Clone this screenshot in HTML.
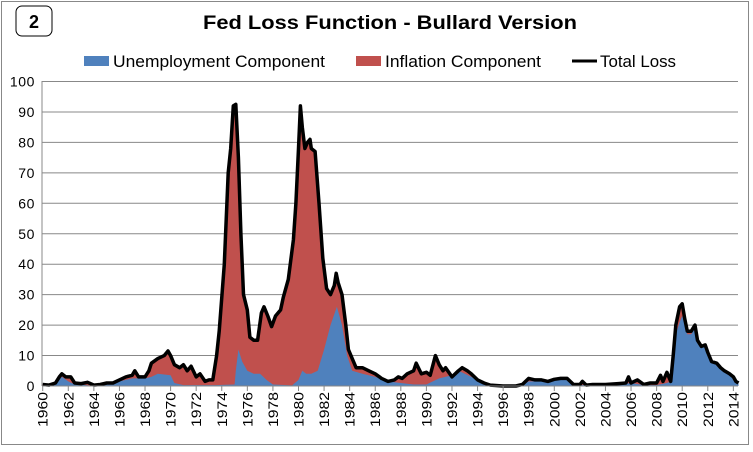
<!DOCTYPE html>
<html><head><meta charset="utf-8"><style>
body{margin:0;background:#fff;}
svg text{font-family:"Liberation Sans",sans-serif;}
</style></head><body>
<svg id="s" width="753" height="447" xmlns="http://www.w3.org/2000/svg">
<rect x="1.5" y="1.5" width="747" height="443" fill="#fff" stroke="#888" stroke-width="1"/>
<rect x="16" y="6" width="36" height="30" rx="6" fill="#fff" stroke="#000" stroke-width="1"/>
<text x="34" y="28" font-size="18" font-weight="bold" text-anchor="middle">2</text>
<text x="390" y="29" font-size="19" font-weight="bold" text-anchor="middle" textLength="374" lengthAdjust="spacingAndGlyphs">Fed Loss Function - Bullard Version</text>
<rect x="84" y="56" width="25" height="10" fill="#4f81bd"/>
<text x="113" y="67" font-size="17" textLength="212" lengthAdjust="spacingAndGlyphs">Unemployment Component</text>
<rect x="356" y="56" width="25" height="10" fill="#c0504d"/>
<text x="385" y="67" font-size="17" textLength="156" lengthAdjust="spacingAndGlyphs">Inflation Component</text>
<line x1="572" y1="61" x2="597" y2="61" stroke="#000" stroke-width="3"/>
<text x="600" y="67" font-size="17" textLength="76" lengthAdjust="spacingAndGlyphs">Total Loss</text>
<g id="g"></g>
</svg>
<script>
var T=[[1960,0.5],[1960.5,0.3],[1961,1],[1961.3,3],[1961.5,4],[1961.8,3],[1962.2,3],[1962.5,1],[1963,0.8],[1963.5,1.2],[1964,0.3],[1964.5,0.5],[1965,1],[1965.5,1],[1966,2],[1966.5,3],[1967,3.5],[1967.2,5],[1967.5,3],[1968,3],[1968.3,5],[1968.5,7.5],[1969,9],[1969.5,10],[1969.8,11.5],[1970,10],[1970.3,7],[1970.7,6],[1971,7],[1971.3,5],[1971.6,6.5],[1972,3],[1972.3,4],[1972.7,1.5],[1973,2],[1973.3,2],[1973.6,10],[1973.8,18],[1974.2,40],[1974.5,70],[1974.7,78],[1974.9,92],[1975.1,92.5],[1975.3,75],[1975.5,50],[1975.7,30],[1976,25],[1976.2,16],[1976.5,15],[1976.8,15],[1977.1,24],[1977.3,26],[1977.6,23],[1977.9,19.5],[1978.2,23],[1978.6,25],[1978.8,29],[1979.2,35],[1979.6,48],[1979.8,60],[1980,78],[1980.15,92],[1980.3,85],[1980.5,78],[1980.7,80],[1980.9,81],[1981,78],[1981.3,77],[1981.6,60],[1981.9,42],[1982.2,32],[1982.5,30],[1982.8,33],[1982.95,37],[1983.1,34],[1983.4,30],[1983.7,20],[1983.9,12],[1984.2,9],[1984.5,6],[1985,6],[1985.5,5],[1986,4],[1986.5,2.5],[1987,1.5],[1987.5,2],[1987.8,3],[1988.1,2.5],[1988.5,4],[1989,5],[1989.2,7.5],[1989.6,4],[1990,4.5],[1990.3,3.5],[1990.7,10],[1991,7],[1991.3,5],[1991.5,6],[1992,3],[1992.5,5],[1992.8,6],[1993.2,5],[1993.5,4],[1994,2],[1994.5,1],[1995,0.3],[1996,0],[1997,0],[1997.5,0.5],[1998,2.5],[1998.5,2],[1999,2],[1999.5,1.5],[2000,2.2],[2000.5,2.5],[2001,2.5],[2001.5,0.5],[2002,0.5],[2002.2,1.5],[2002.5,0.3],[2003,0.5],[2004,0.5],[2005,0.8],[2005.6,1],[2005.8,3],[2006,1],[2006.5,2],[2007,0.5],[2007.5,1],[2008,1],[2008.3,3.5],[2008.5,1.5],[2008.8,4.5],[2009.1,1.5],[2009.3,10],[2009.5,20],[2009.8,26],[2010,27],[2010.2,22],[2010.4,18],[2010.7,18],[2011,20],[2011.2,15],[2011.5,13],[2011.8,13.5],[2012,11],[2012.3,8],[2012.7,7.5],[2013,6],[2013.3,5],[2013.7,4],[2014,3],[2014.2,1.5],[2014.4,1]];
var U=[[1960,0],[1961,1],[1961.5,3],[1962,1.5],[1962.5,0.5],[1963,0.5],[1964,0],[1965,0.5],[1966,1.5],[1967,2.5],[1968,2.5],[1968.5,3],[1969,4],[1970,3.5],[1970.3,1],[1971,0.3],[1973.5,0.3],[1975,0.5],[1975.1,5],[1975.3,12],[1975.6,8],[1976,5],[1976.5,4],[1977,4],[1977.5,2],[1978,0.5],[1979.5,0.2],[1980,2],[1980.3,5],[1980.6,4],[1981,4],[1981.5,5],[1982,12],[1982.5,20],[1983,26],[1983.4,20],[1983.8,10],[1984.2,5],[1985,4],[1986,3],[1987,1.5],[1988,1],[1989,0.5],[1990,0.5],[1990.5,1.5],[1991,2.5],[1992,3.5],[1992.5,5],[1993,4],[1994,2],[1995,0.3],[1996,0],[1997.5,0.3],[1998,1.5],[1999,1.5],[2000,2],[2001,2],[2001.5,0.3],[2005,0.5],[2006,1],[2007,0.3],[2008,0.3],[2008.8,1],[2009.1,1.5],[2009.3,9],[2009.5,17],[2009.8,21],[2010,23],[2010.2,20],[2010.4,17],[2010.7,17],[2011,19],[2011.2,14.5],[2011.5,12.5],[2011.8,13],[2012,10.5],[2012.3,7.7],[2012.7,7.2],[2013,5.8],[2013.3,4.8],[2013.7,3.8],[2014,2.9],[2014.2,1.4],[2014.4,1]];
function X(y){return 42.7+(y-1960)*12.79;}
function Y(v){return 386-v*3.045;}
var h='';
for(var i=0;i<=10;i++){var y=Y(i*10);h+='<line x1="42" y1="'+y+'" x2="738" y2="'+y+'" stroke="#888" stroke-width="1"/>';
h+='<text x="35" y="'+(y+5)+'" font-size="14" text-anchor="end" letter-spacing="0.6">'+(i*10)+'</text>';}
function poly(a){return a.map(function(p){return X(p[0]).toFixed(1)+','+Y(p[1]).toFixed(1)}).join(' ');}
h+='<polygon fill="#c0504d" points="'+X(1960)+','+Y(0)+' '+poly(T)+' '+X(2014.4)+','+Y(0)+'"/>';
h+='<polygon fill="#4f81bd" points="'+X(1960)+','+Y(0)+' '+poly(U)+' '+X(2014.4)+','+Y(0)+'"/>';
h+='<polyline fill="none" stroke="#000" stroke-width="3.5" stroke-linejoin="round" points="'+poly(T)+'"/>';
h+='<line x1="42" y1="81" x2="42" y2="386" stroke="#888"/>';
h+='<line x1="42" y1="386" x2="738" y2="386" stroke="#888"/>';
for(var yr=1960;yr<=2014;yr+=2){var x=X(yr);h+='<line x1="'+x+'" y1="386" x2="'+x+'" y2="391" stroke="#888"/>';
h+='<text transform="translate('+(x+5)+',392) rotate(-90)" font-size="14" text-anchor="end" textLength="35" lengthAdjust="spacingAndGlyphs">'+yr+'</text>';}
document.getElementById('g').innerHTML=h;
</script>
</body></html>
